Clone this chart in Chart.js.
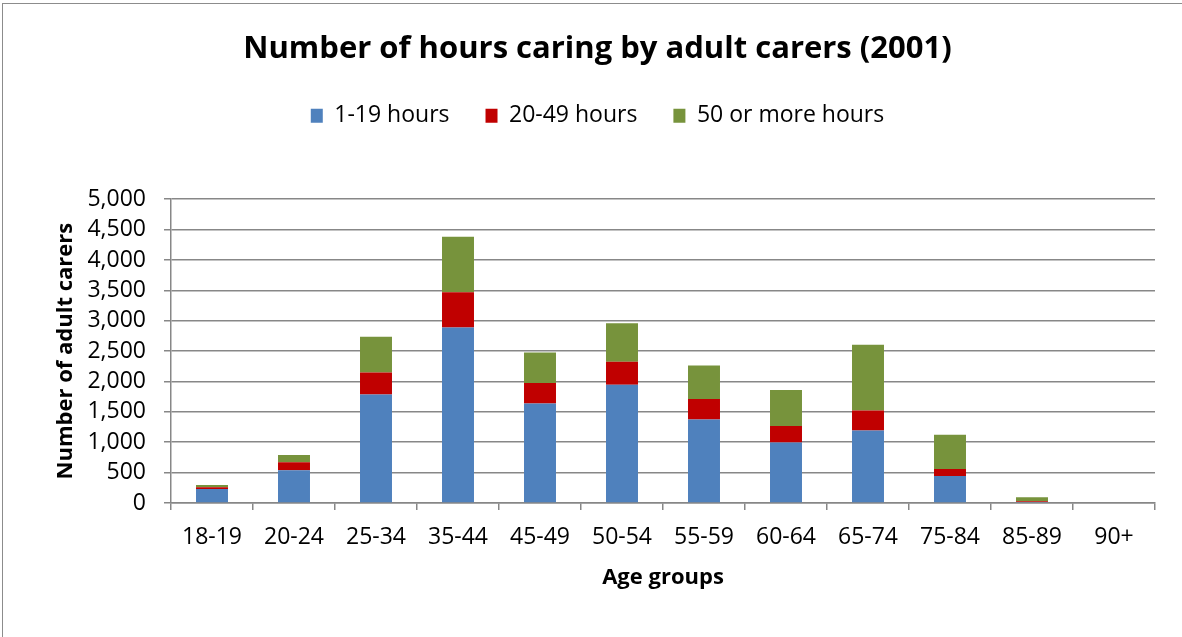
<!DOCTYPE html>
<html>
<head>
<meta charset="utf-8">
<script src="https://cdn.jsdelivr.net/npm/chart.js@4.4.1/dist/chart.umd.min.js"></script>
<style>
  html, body { margin: 0; padding: 0; background: #fff; overflow: hidden; }
  #wrap { position: relative; width: 1182px; height: 637px; }
  #frame { position: absolute; left: 2px; top: 3px; width: 1200px; height: 700px; border: 1.5px solid #8c8c8c; box-sizing: border-box; }
  canvas { position: absolute; left: 0; top: 0; }
</style>
</head>
<body>
<div id="wrap">
  <div id="frame"></div>
  <canvas id="c" width="1182" height="637"></canvas>
</div>
<script>
const categories = ['18-19','20-24','25-34','35-44','45-49','50-54','55-59','60-64','65-74','75-84','85-89','90+'];
const hours1to19   = [230, 537, 1787, 2888, 1639, 1945, 1375, 997, 1195, 444, 15, 0];
const hours20to49  = [28, 132, 361, 581, 334, 379, 335, 269, 328, 115, 15, 0];
const hours50plus  = [38, 120, 587, 915, 504, 635, 553, 592, 1080, 564, 65, 0];
const seriesNames  = ['1-19 hours', '20-49 hours', '50 or more hours'];
const yTicks       = [0, 500, 1000, 1500, 2000, 2500, 3000, 3500, 4000, 4500, 5000];

const FONT = "'Open Sans', sans-serif";
const GRID = '#878787';

// empty layout box to leave space between the legend and the plot area
const spacerPlugin = {
  id: 'spacer',
  beforeInit(chart) {
    const box = {
      position: 'top', weight: 500, fullSize: true, options: {},
      width: 0, height: 0, left: 0, top: 0, right: 0, bottom: 0,
      isHorizontal() { return true; },
      update(maxWidth) { this.width = maxWidth; this.height = 62; },
      draw() {}
    };
    Chart.layouts.addBox(chart, box);
  }
};

new Chart(document.getElementById('c'), {
  type: 'bar',
  plugins: [spacerPlugin],
  data: {
    labels: categories,
    datasets: [
      { label: seriesNames[0], data: hours1to19, backgroundColor: '#4F81BD' },
      { label: seriesNames[1], data: hours20to49, backgroundColor: '#C00000' },
      { label: seriesNames[2], data: hours50plus, backgroundColor: '#77933C' }
    ]
  },
  options: {
    responsive: false,
    animation: false,
    devicePixelRatio: 1,
    layout: { padding: { left: 40, right: 27, top: 0, bottom: 30 } },
    datasets: { bar: { categoryPercentage: 1, barPercentage: 0.39, borderWidth: 0 } },
    plugins: {
      tooltip: { enabled: false },
      title: {
        display: true,
        text: 'Number of hours caring by adult carers (2001)',
        color: '#000',
        font: { family: FONT, size: 31, weight: 'bold', lineHeight: 1.2 },
        padding: { top: 31, bottom: 0 }
      },
      legend: {
        display: true,
        position: 'top',
        labels: {
          color: '#000',
          font: { family: FONT, size: 23 },
          boxWidth: 12,
          boxHeight: 14,
          padding: 36
        }
      }
    },
    scales: {
      x: {
        stacked: true,
        offset: true,
        afterFit: (s) => { s.height = 104; },
        grid: { display: true, offset: true, drawOnChartArea: false, drawTicks: true, tickLength: 7, color: GRID, lineWidth: 1.5 },
        border: { display: true, color: GRID, width: 1.5 },
        ticks: { color: '#000', font: { family: FONT, size: 23 }, padding: 14, maxRotation: 0, autoSkip: false },
        title: { display: true, text: 'Age groups', color: '#000', font: { family: FONT, size: 22, weight: 'bold', lineHeight: 1.2 }, padding: { top: 0, bottom: 16 } }
      },
      y: {
        stacked: true,
        min: 0,
        max: 5000,
        afterFit: (s) => { s.width = 131; },
        afterBuildTicks: (s) => { s.ticks = yTicks.map(v => ({ value: v })); },
        grid: { display: true, drawTicks: true, tickLength: 7, color: GRID, lineWidth: 1.5 },
        border: { display: true, color: GRID, width: 1.5 },
        ticks: { color: '#000', font: { family: FONT, size: 23, lineHeight: 1 }, padding: 18, autoSkip: false, callback: (v) => Number(v).toLocaleString('en-US') },
        title: { display: true, text: 'Number of adult carers', color: '#000', font: { family: FONT, size: 22, weight: 'bold', lineHeight: 1.2 }, padding: { top: 13, bottom: 0 } }
      }
    }
  }
});
</script>
</body>
</html>
